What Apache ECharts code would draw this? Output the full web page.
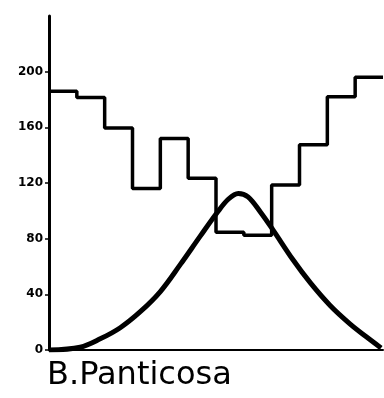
<!DOCTYPE html>
<html>
<head>
<meta charset="utf-8">
<script src="https://cdn.jsdelivr.net/npm/echarts@6/dist/echarts.min.js"></script>
<style>
  html, body { margin: 0; padding: 0; background: #fff; }
  #main { width: 384px; height: 398px; }
</style>
</head>
<body>
<div id="main"></div>
<script>
// monthly steps (month index 0..12) and the smooth curve
var stepMonths = [0, 1, 2, 3, 4, 5, 6, 7, 8, 9, 10, 11, 12];
var stepValues = [186, 181.5, 159.5, 116, 152, 123.5, 84.7, 82.5, 118.5, 147.5, 182, 196, 196];
var curveX = [0, 1.12, 1.84, 2.56, 3.28, 4.0, 4.72, 5.44, 6.05, 6.45, 6.8, 7.15, 7.6, 8.04, 8.76, 9.4, 10.1, 10.8, 11.4, 11.93];
var curveY = [0, 2, 8, 16, 27.5, 42, 61.5, 82, 99, 108.5, 112.5, 110, 99, 86.5, 65, 48, 32, 19, 9.5, 1.5];
var yTicks = [0, 40, 80, 120, 160, 200];

var myChart = echarts.init(document.getElementById('main'));

var stepData = stepMonths.map(function (m, i) { return [m, stepValues[i]]; });
var curveData = curveX.map(function (x, i) { return [x, curveY[i]]; });

var option = {
    animation: false,
    backgroundColor: '#fff',
    title: {
        text: 'B.Panticosa',
        left: 42,
        top: 355,
        textStyle: { fontFamily: 'DejaVu Sans', fontSize: 32, fontWeight: 'normal', color: '#000' }
    },
    grid: { left: 49, right: 1, top: 16, bottom: 48 },
    xAxis: {
        type: 'value',
        min: 0,
        max: 12,
        axisLine: { show: true, lineStyle: { color: '#000', width: 2 } },
        axisTick: { show: false },
        axisLabel: { show: false },
        splitLine: { show: false }
    },
    yAxis: {
        type: 'value',
        min: 0,
        max: 240,
        interval: 40,
        axisLine: { show: true, lineStyle: { color: '#000', width: 3 } },
        axisTick: { show: true, length: 4, customValues: yTicks, lineStyle: { color: '#000', width: 1.5 } },
        axisLabel: {
            customValues: yTicks,
            margin: 6,
            fontFamily: 'DejaVu Sans',
            fontWeight: 'bold',
            fontSize: 12,
            color: '#000'
        },
        splitLine: { show: false }
    },
    series: [
        {
            type: 'line',
            step: 'end',
            data: stepData,
            symbol: 'none',
            lineStyle: { color: '#000', width: 3.5 }
        },
        {
            type: 'line',
            smooth: 0.35,
            data: curveData,
            symbol: 'none',
            lineStyle: { color: '#000', width: 5 }
        }
    ]
};
myChart.setOption(option);
</script>
</body>
</html>
